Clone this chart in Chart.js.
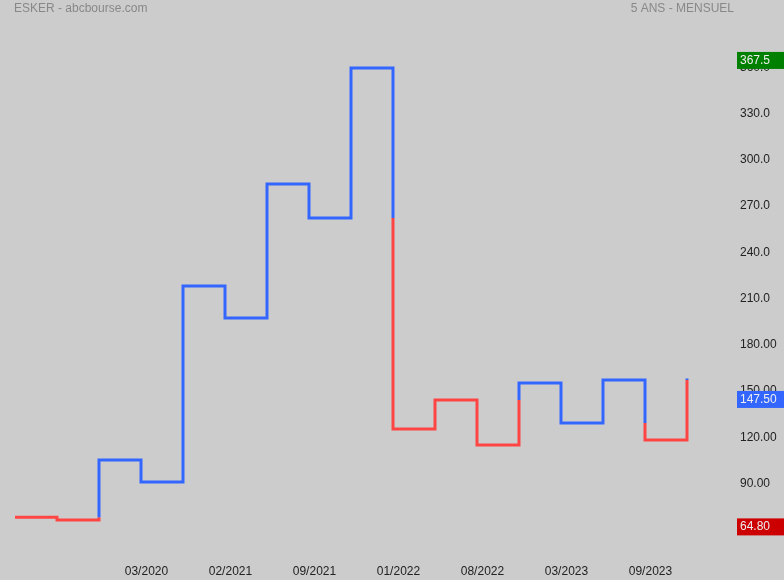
<!DOCTYPE html>
<html>
<head>
<meta charset="utf-8">
<script src="https://cdn.jsdelivr.net/npm/chart.js@4.4.0/dist/chart.umd.min.js"></script>
<style>
    body { margin: 0; background: #cccccc; }
    canvas { display: block; }
</style>
</head>
<body>
<canvas id="kagiChart" width="784" height="580"></canvas>
<script>
// Kagi levels, one per step (the last one is where the final vertical ends)
var kagiLevels = [68.1, 66.4, 105.3, 91.0, 218.2, 197.5, 284.4, 262.4, 359.7, 125.4, 144.3, 115.1, 155.3, 129.3, 157.2, 118.3, 158.2];
var dateLabels = ['03/2020', '02/2021', '09/2021', '01/2022', '08/2022', '03/2023', '09/2023'];
var dateSteps = [3, 5, 7, 9, 11, 13, 15];
var priceTicks = [90, 120, 150, 180, 210, 240, 270, 300, 330, 360];
var tagValues = [367.5, 147.5, 64.8];
var tagTexts = ['367.5', '147.50', '64.80'];

var UP = '#3366ff', DOWN = '#ff4444';
var tagColors = ['#008000', '#3366ff', '#cc0000'];
var FONT = 'Liberation Sans, Arial, sans-serif';

// build the kagi path: colour flips when a shoulder / waist is broken
var points = [{ x: 0, y: kagiLevels[0] }];
var colors = [];
var trend = DOWN;
var lastHigh = kagiLevels[0], lastLow = kagiLevels[0];
for (var i = 1; i < kagiLevels.length; i++) {
    var a = kagiLevels[i - 1], b = kagiLevels[i];
    points.push({ x: i, y: a });
    colors.push(trend);
    if (b > a) {
        if (trend === DOWN && b > lastHigh) {
            points.push({ x: i, y: lastHigh });
            colors.push(DOWN);
            trend = UP;
        }
        lastLow = a;
    } else {
        if (trend === UP && b < lastLow) {
            points.push({ x: i, y: lastLow });
            colors.push(UP);
            trend = DOWN;
        }
        lastHigh = a;
    }
    points.push({ x: i, y: b });
    colors.push(trend);
}

var extras = {
    id: 'extras',
    afterDraw: function (chart) {
        var c = chart.ctx;
        var yScale = chart.scales.y;
        c.save();
        c.font = '12px ' + FONT;
        c.fillStyle = '#888888';
        c.textBaseline = 'middle';
        c.textAlign = 'left';
        c.fillText('ESKER - abcbourse.com', 14, 9);
        c.textAlign = 'right';
        c.fillText('5 ANS - MENSUEL', 734, 9);

        c.textAlign = 'left';
        for (var k = 0; k < tagValues.length; k++) {
            var py = yScale.getPixelForValue(tagValues[k]);
            c.fillStyle = tagColors[k];
            c.fillRect(737, py - 4, 47, 17);
            c.fillStyle = '#eeeeee';
            c.fillText(tagTexts[k], 740, py + 4.5);
        }
        c.restore();
    }
};

var ctx = document.getElementById('kagiChart').getContext('2d');
var kagiChart = new Chart(ctx, {
    type: 'line',
    data: {
        datasets: [{
            data: points,
            borderWidth: 3,
            borderColor: UP,
            borderJoinStyle: 'miter',
            pointRadius: 0,
            tension: 0,
            fill: false,
            clip: false,
            segment: {
                borderColor: function (sc) { return colors[sc.p0DataIndex]; }
            }
        }]
    },
    options: {
        responsive: false,
        animation: false,
        devicePixelRatio: 1,
        layout: { padding: 0 },
        plugins: {
            legend: { display: false },
            tooltip: { enabled: false }
        },
        scales: {
            x: {
                type: 'linear',
                min: -15 / 42,
                max: 720 / 42,
                grid: { display: false, drawTicks: false },
                border: { display: false },
                afterBuildTicks: function (scale) {
                    scale.ticks = dateSteps.map(function (s) { return { value: s + 0.13 }; });
                },
                afterFit: function (scale) {
                    scale.height = 20;
                    scale.paddingLeft = 0;
                    scale.paddingRight = 0;
                },
                ticks: {
                    autoSkip: false,
                    maxRotation: 0,
                    padding: 4,
                    color: '#222222',
                    font: { family: FONT, size: 12 },
                    callback: function (v, idx) { return dateLabels[idx]; }
                }
            },
            y: {
                type: 'linear',
                position: 'right',
                min: 40.4,
                max: 403.8,
                grid: { display: false, drawTicks: false },
                border: { display: false },
                afterBuildTicks: function (scale) {
                    scale.ticks = priceTicks.map(function (v) { return { value: v }; });
                },
                afterFit: function (scale) {
                    scale.width = 49;
                    scale.paddingTop = 0;
                    scale.paddingBottom = 0;
                },
                ticks: {
                    autoSkip: false,
                    padding: 5,
                    color: '#222222',
                    font: { family: FONT, size: 12 },
                    callback: function (v) { return v < 200 ? v.toFixed(2) : v.toFixed(1); }
                }
            }
        }
    },
    plugins: [extras]
});
</script>
</body>
</html>
